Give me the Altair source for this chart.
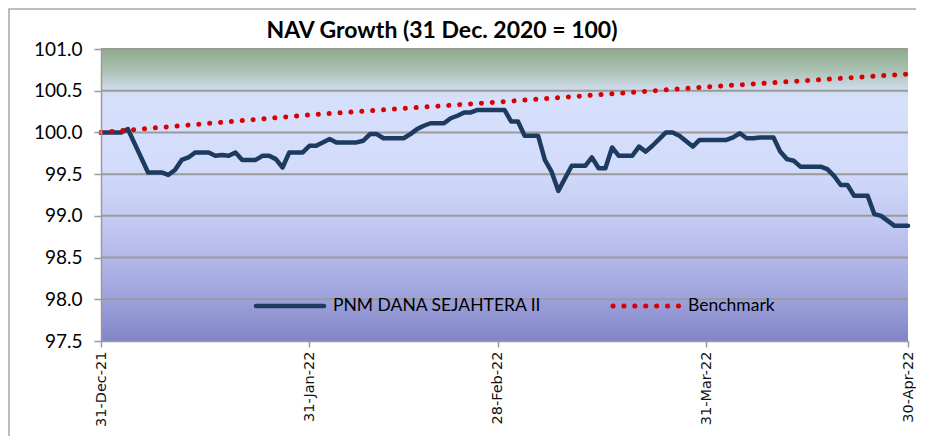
import datetime as dt
import altair as alt
import pandas as pd

# ---- data (day offset from 31-Dec-2021, value) ----
nav_days = [0, 3, 4, 7, 9, 10, 11, 12, 13, 14, 16, 17, 18, 19, 20, 21, 23, 24, 25, 26,
            27, 28, 30, 31, 32, 34, 35, 38, 39, 40, 41, 42, 45, 46, 47, 48, 49, 51, 52, 53,
            54, 55, 56, 60, 61, 62, 63, 65, 66, 67, 68, 70, 72, 73, 74, 75, 76, 77, 79, 80,
            81, 82, 83, 84, 85, 86, 88, 89, 93, 94, 95, 96, 97, 98, 100, 101, 102, 103, 104, 107,
            108, 109, 110, 111, 112, 114, 115, 116, 118, 120]
nav_values = [100.00, 100.00, 100.04, 99.52, 99.52, 99.49, 99.55, 99.67, 99.70, 99.76,
              99.76, 99.72, 99.73, 99.72, 99.76, 99.67, 99.67, 99.72, 99.72, 99.68,
              99.58, 99.76, 99.76, 99.84, 99.84, 99.92, 99.88, 99.88, 99.90, 99.98,
              99.98, 99.93, 99.93, 99.98, 100.04, 100.08, 100.11, 100.11, 100.17, 100.20,
              100.24, 100.24, 100.27, 100.27, 100.13, 100.13, 99.96, 99.96, 99.67, 99.53,
              99.30, 99.60, 99.60, 99.70, 99.57, 99.57, 99.82, 99.72, 99.72, 99.83,
              99.77, 99.84, 99.92, 100.00, 100.00, 99.96, 99.83, 99.91, 99.91, 99.94,
              99.99, 99.93, 99.93, 99.94, 99.94, 99.77, 99.68, 99.66, 99.59, 99.59,
              99.56, 99.48, 99.37, 99.37, 99.24, 99.24, 99.02, 99.00, 98.88, 98.88]

bench_days = [0, 31, 60, 90, 120]
bench_values = [100.00, 100.21, 100.37, 100.545, 100.70]

series_names = ["PNM DANA SEJAHTERA II", "Benchmark"]
title_text = "NAV Growth (31 Dec. 2020 = 100)"
y_ticks = [97.5, 98.0, 98.5, 99.0, 99.5, 100.0, 100.5, 101.0]
x_tick_dates = [(2021, 12, 31), (2022, 1, 31), (2022, 2, 28), (2022, 3, 31), (2022, 4, 30)]

BASE = dt.date(2021, 12, 31)
def to_dates(days):
    return [(BASE + dt.timedelta(days=d)).isoformat() for d in days]

nav_df = pd.DataFrame({"date": to_dates(nav_days), "value": nav_values})
bench_df = pd.DataFrame({"date": to_dates(bench_days), "value": bench_values})
grid_df = pd.DataFrame({"value": y_ticks[1:]})

NAVY = "#1d3b60"
RED = "#d80000"
GRID = "#9a9a9a"
W, H = 807, 292

x_scale = alt.Scale(type="utc",
                    domain=[alt.DateTime(year=2021, month=12, date=31, utc=True),
                            alt.DateTime(year=2022, month=4, date=30, utc=True)])
y_scale = alt.Scale(domain=[97.5, 101.0], nice=False, zero=False)

x_axis = alt.Axis(values=[alt.DateTime(year=y, month=m, date=d, utc=True) for y, m, d in x_tick_dates],
                  format="%d-%b-%y", labelAngle=270, labelFont="DejaVu Sans", labelFontSize=14.5,
                  labelColor="#111111", labelPadding=4, tickSize=6, tickColor=GRID, tickWidth=1.5,
                  domainColor=GRID, domainWidth=1.5, grid=False, title=None, zindex=1)
y_axis = alt.Axis(values=y_ticks, format=".1f", labelFont="Lato", labelFontSize=19,
                  labelColor="#000000", labelPadding=12, tickSize=7, tickColor=GRID, tickWidth=1.5,
                  domainColor=GRID, domainWidth=1.5, grid=False, title=None, zindex=1)

gradient = alt.Gradient(
    gradient="linear", x1=0, x2=0, y1=0, y2=1,
    stops=[
        alt.GradientStop(color="#8fac8c", offset=0.0),
        alt.GradientStop(color="#a9c0b0", offset=0.07),
        alt.GradientStop(color="#cbd8e6", offset=0.13),
        alt.GradientStop(color="#d6e0fc", offset=0.17),
        alt.GradientStop(color="#d3dcfa", offset=0.40),
        alt.GradientStop(color="#c0c6f0", offset=0.62),
        alt.GradientStop(color="#a4a8e0", offset=0.82),
        alt.GradientStop(color="#8185c6", offset=1.0),
    ],
)

one = pd.DataFrame({"k": [0]})

background = alt.Chart(one).mark_rect(fill=gradient, strokeWidth=0).encode(
    x=alt.value(0), x2=alt.value(W), y=alt.value(0), y2=alt.value(H))

grid = alt.Chart(grid_df).mark_rule(color=GRID, strokeWidth=2).encode(
    y=alt.Y("value:Q", scale=y_scale, axis=y_axis), x=alt.value(0), x2=alt.value(W))

nav_line = alt.Chart(nav_df).mark_line(
    color=NAVY, strokeWidth=4.5, strokeJoin="round", strokeCap="round"
).encode(
    x=alt.X("date:T", scale=x_scale, axis=x_axis),
    y=alt.Y("value:Q", scale=y_scale, axis=y_axis),
)

bench_line = alt.Chart(bench_df).mark_line(
    color=RED, strokeWidth=5, strokeCap="round", strokeDash=[0.1, 10.8]
).encode(x="date:T", y="value:Q")

# legend (drawn inside the plot, as in the reference)
leg_nav_sym = alt.Chart(one).mark_rule(color=NAVY, strokeWidth=4.5, strokeCap="round").encode(
    x=alt.value(155), x2=alt.value(223), y=alt.value(257))
leg_bench_sym = alt.Chart(one).mark_rule(color=RED, strokeWidth=5, strokeCap="round",
                                         strokeDash=[0.1, 10.8]).encode(
    x=alt.value(512), x2=alt.value(580), y=alt.value(257))
leg_text = alt.Chart(pd.DataFrame({"name": series_names, "px": [232, 587]})).mark_text(
    align="left", baseline="middle", font="Lato", fontSize=17.5, color="#000000"
).encode(text="name:N", x=alt.X("px:Q", scale=None), y=alt.value(257))

title = alt.Chart(pd.DataFrame({"t": [title_text]})).mark_text(
    align="center", baseline="middle", font="Lato", fontSize=23, fontWeight="bold", color="#000000"
).encode(text="t:N", x=alt.value(341), y=alt.value(-18))

frame = alt.Chart(one).mark_rect(fillOpacity=0, stroke="#a8a8a8", strokeWidth=1.5).encode(
    x=alt.value(-92), y=alt.value(-40), x2=alt.value(1000), y2=alt.value(600))

chart = alt.layer(
    background, grid, nav_line, bench_line, leg_nav_sym, leg_bench_sym, leg_text, title, frame
).properties(
    width=W, height=H,
    autosize=alt.AutoSizeParams(type="none"),
    padding={"left": 93, "top": 41, "right": 8, "bottom": 95},
    background="#ffffff",
).configure_view(
    stroke=None
)

chart.save("out.html", embed_options={"renderer": "svg", "actions": False})
